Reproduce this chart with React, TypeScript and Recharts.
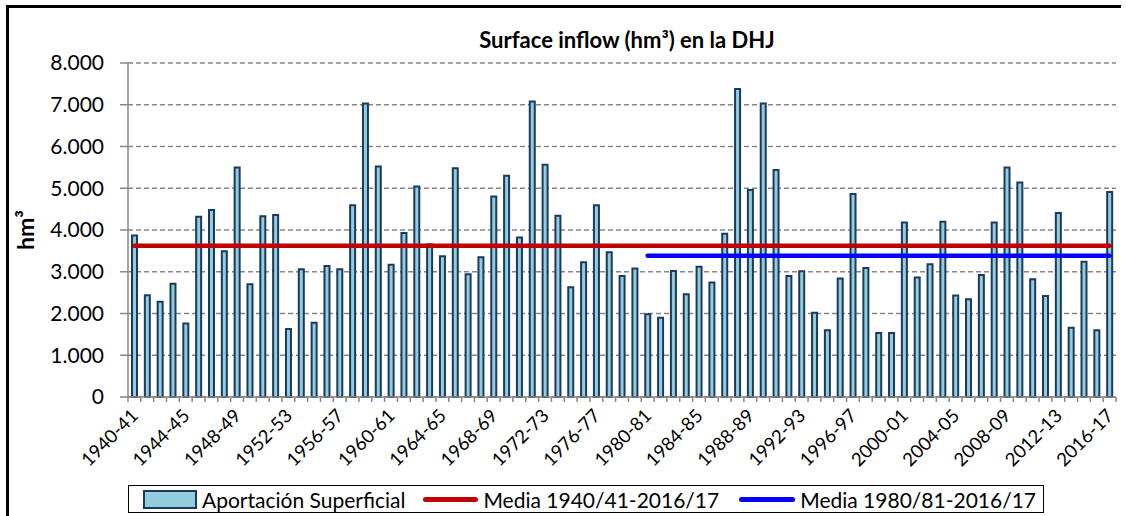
import React from "react"
import {
  ComposedChart,
  Bar,
  Line,
  XAxis,
  YAxis,
  CartesianGrid,
} from "recharts"

const years = [
  "1940-41", "1941-42", "1942-43", "1943-44", "1944-45", "1945-46", "1946-47", "1947-48",
  "1948-49", "1949-50", "1950-51", "1951-52", "1952-53", "1953-54", "1954-55", "1955-56",
  "1956-57", "1957-58", "1958-59", "1959-60", "1960-61", "1961-62", "1962-63", "1963-64",
  "1964-65", "1965-66", "1966-67", "1967-68", "1968-69", "1969-70", "1970-71", "1971-72",
  "1972-73", "1973-74", "1974-75", "1975-76", "1976-77", "1977-78", "1978-79", "1979-80",
  "1980-81", "1981-82", "1982-83", "1983-84", "1984-85", "1985-86", "1986-87", "1987-88",
  "1988-89", "1989-90", "1990-91", "1991-92", "1992-93", "1993-94", "1994-95", "1995-96",
  "1996-97", "1997-98", "1998-99", "1999-00", "2000-01", "2001-02", "2002-03", "2003-04",
  "2004-05", "2005-06", "2006-07", "2007-08", "2008-09", "2009-10", "2010-11", "2011-12",
  "2012-13", "2013-14", "2014-15", "2015-16", "2016-17",
]

// hm3 per hydrological year
const inflow = [
  3870, 2440, 2280, 2710, 1760, 4320, 4480, 3490, 5500, 2700,
  4330, 4360, 1630, 3060, 1780, 3140, 3060, 4590, 7030, 5520,
  3170, 3930, 5040, 3660, 3370, 5480, 2940, 3350, 4800, 5300,
  3820, 7080, 5560, 4340, 2630, 3230, 4590, 3470, 2900, 3080,
  1980, 1900, 3020, 2460, 3120, 2740, 3910, 7380, 4960, 7030,
  5440, 2900, 3010, 2020, 1600, 2840, 4860, 3090, 1530, 1530,
  4180, 2860, 3180, 4200, 2430, 2340, 2920, 4180, 5500, 5140,
  2820, 2420, 4410, 1660, 3240, 1600, 4910,
]

const meanAll = 3624
const meanRecent = 3384
const recentStart = "1980-81"

const yTicks = [0, 1000, 2000, 3000, 4000, 5000, 6000, 7000, 8000]

const W = 1126
const H = 516
const PLOT_LEFT = 128
const PLOT_RIGHT = 1116
const BAND = (PLOT_RIGHT - PLOT_LEFT) / years.length

const FONT = "Lato, 'Open Sans', sans-serif"
const AXIS_GRAY = "#868686"

const startIdx = years.indexOf(recentStart)
const data = years.map((y, i) => ({
  year: y,
  inflow: inflow[i],
  meanAll,
  meanRecent: i >= startIdx ? meanRecent : null,
}))

function thousands(v: number) {
  return String(v).replace(/\B(?=(\d{3})+(?!\d))/g, ".")
}

function XTick(props: any) {
  const { x, y, payload, index } = props
  const axisY = y - 6
  const last = index === years.length - 1
  const tx = x + 5
  const ty = y + 14
  return (
    <g>
      <line x1={x - BAND / 2} x2={x - BAND / 2} y1={axisY} y2={axisY + 5} stroke={AXIS_GRAY} strokeWidth={1.5} />
      {last && (
        <line x1={x + BAND / 2} x2={x + BAND / 2} y1={axisY} y2={axisY + 5} stroke={AXIS_GRAY} strokeWidth={1.5} />
      )}
      {index % 4 === 0 && (
        <text
          x={tx}
          y={ty}
          textAnchor="end"
          transform={`rotate(-45 ${tx} ${ty})`}
          fontSize={18.5}
          fontFamily={FONT}
          fill="#000"
        >
          {payload.value}
        </text>
      )}
    </g>
  )
}

function Legend() {
  return (
    <div
      style={{
        position: "absolute",
        left: 128,
        top: 485,
        width: 916,
        height: 28,
        boxSizing: "border-box",
        border: "1.5px solid #000",
        fontFamily: FONT,
        fontSize: 21,
        color: "#000",
        display: "flex",
        alignItems: "center",
        whiteSpace: "nowrap",
      }}
    >
      <span
        style={{
          display: "inline-block",
          width: 50,
          height: 15,
          marginLeft: 14,
          background: "#92CDDC",
          border: "2px solid #1B3A5E",
        }}
      />
      <span style={{ marginLeft: 5 }}>Aportación Superficial</span>
      <span
        style={{
          display: "inline-block",
          width: 55,
          height: 5,
          borderRadius: 3,
          marginLeft: 18,
          background: "#C00000",
        }}
      />
      <span style={{ marginLeft: 5 }}>Media 1940/41-2016/17</span>
      <span
        style={{
          display: "inline-block",
          width: 56,
          height: 5,
          borderRadius: 3,
          marginLeft: 20,
          background: "#0000FF",
        }}
      />
      <span style={{ marginLeft: 5 }}>Media 1980/81-2016/17</span>
    </div>
  )
}

export default function App() {
  return (
    <div style={{ position: "absolute", left: 0, top: 0, width: W, height: H, background: "#fff", overflow: "hidden" }}>
      <div
        style={{
          position: "absolute",
          left: 6,
          top: 5,
          width: 1112,
          height: 600,
          borderLeft: "3px solid #000",
          borderTop: "3px solid #000",
        }}
      />
      <div
        style={{
          position: "absolute",
          left: 127,
          top: 26,
          width: 1000,
          textAlign: "center",
          fontFamily: FONT,
          fontWeight: 700,
          fontSize: 22,
          lineHeight: "28px",
          color: "#000",
        }}
      >
        Surface inflow (hm³) en la DHJ
      </div>
      <div style={{ position: "absolute", left: 0, top: 0 }}>
        <ComposedChart
          width={W}
          height={H}
          data={data}
          margin={{ top: 63, right: W - PLOT_RIGHT, bottom: 39, left: 48 }}
          barCategoryGap={0}
        >
          <CartesianGrid vertical={false} stroke={AXIS_GRAY} strokeDasharray="5 3" strokeWidth={1.5} />
          <XAxis
            dataKey="year"
            interval={0}
            height={80}
            tickSize={6}
            tickMargin={0}
            tickLine={false}
            axisLine={{ stroke: AXIS_GRAY, strokeWidth: 1.5 }}
            tick={<XTick />}
          />
          <YAxis
            domain={[0, 8000]}
            ticks={yTicks}
            width={80}
            tickSize={8}
            tickMargin={16}
            tickFormatter={(v: number) => thousands(v)}
            tick={{ fontSize: 21, fontFamily: FONT, fill: "#000" }}
            tickLine={{ stroke: AXIS_GRAY, strokeWidth: 1.5 }}
            axisLine={{ stroke: AXIS_GRAY, strokeWidth: 1.5 }}
            label={{
              value: "hm³",
              angle: -90,
              position: "left",
              offset: 22,
              style: { fontSize: 23, fontWeight: 700, fontFamily: FONT, fill: "#000", textAnchor: "middle" },
            }}
          />
          <Bar
            dataKey="inflow"
            barSize={5}
            fill="#92CDDC"
            stroke="#1B3A5E"
            strokeWidth={2}
            isAnimationActive={false}
          />
          <Line
            type="linear"
            dataKey="meanAll"
            stroke="#C00000"
            strokeWidth={4.5}
            strokeLinecap="round"
            dot={false}
            activeDot={false}
            isAnimationActive={false}
          />
          <Line
            type="linear"
            dataKey="meanRecent"
            stroke="#0000FF"
            strokeWidth={4.5}
            strokeLinecap="round"
            dot={false}
            activeDot={false}
            connectNulls={false}
            isAnimationActive={false}
          />
        </ComposedChart>
      </div>
      <Legend />
    </div>
  )
}
